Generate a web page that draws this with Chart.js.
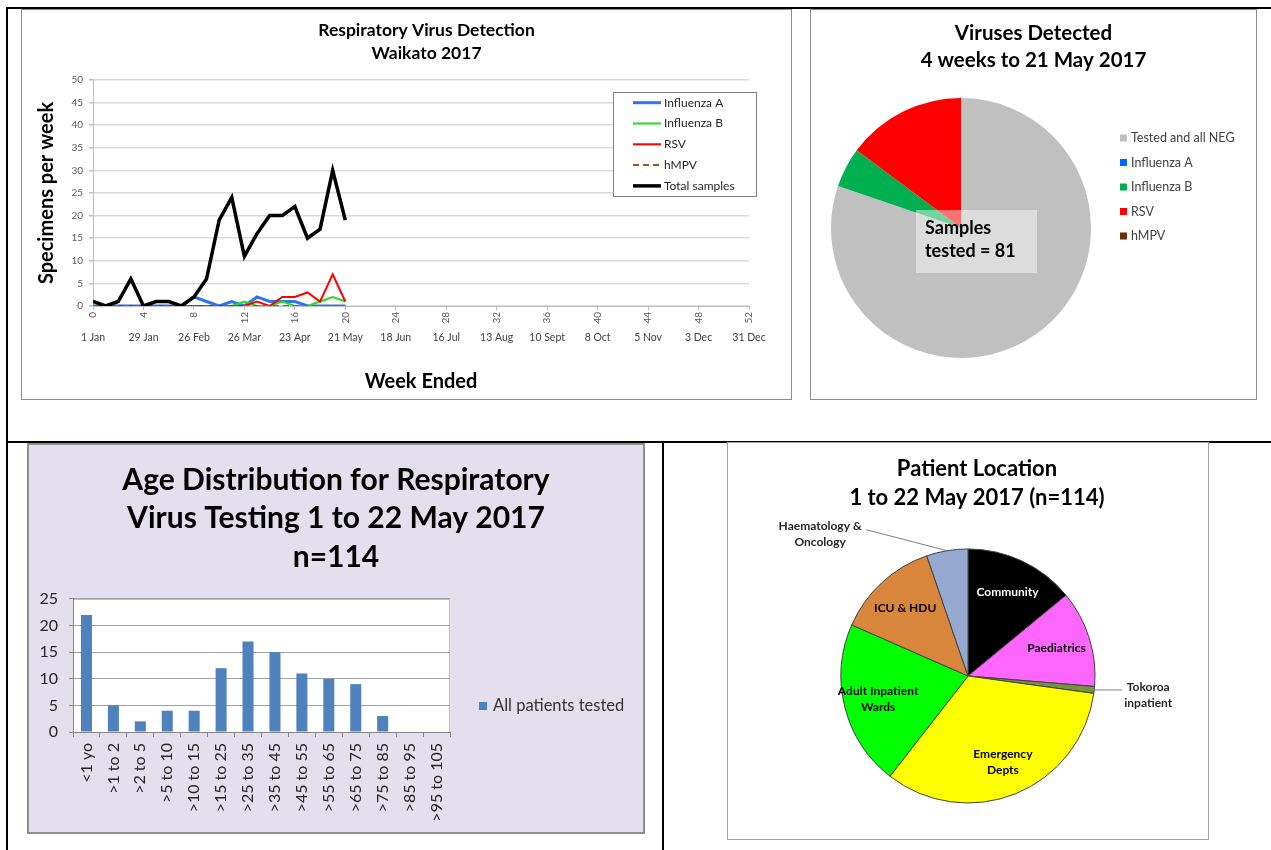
<!DOCTYPE html>
<html>
<head>
<meta charset="utf-8">
<script src="https://cdn.jsdelivr.net/npm/chart.js@4.4.1/dist/chart.umd.min.js"></script>
<style>
  body { margin: 0; background: #fff; width: 1271px; height: 850px; position: relative; overflow: hidden; }
  .rule { position: absolute; background: #000; }
  .panel { position: absolute; box-sizing: border-box; }
  .panel canvas { position: absolute; left: 0; top: 0; }
</style>
</head>
<body>
<div class="rule" style="left:6px;top:7px;width:1265px;height:2px"></div>
<div class="rule" style="left:6px;top:7px;width:2px;height:843px"></div>
<div class="rule" style="left:6px;top:441px;width:1265px;height:2px"></div>
<div class="rule" style="left:662px;top:441px;width:2px;height:409px"></div>

<div class="panel" style="left:21px;top:9px;width:771px;height:391px;border:1px solid #8c8c8c">
  <canvas id="trend" width="769" height="389"></canvas>
</div>
<div class="panel" style="left:810px;top:9px;width:447px;height:391px;border:1px solid #8c8c8c">
  <canvas id="viruses" width="445" height="389"></canvas>
</div>
<div class="panel" style="left:27px;top:443px;width:618px;height:391px;border:2px solid #8f8f8f;background:#e4dfec">
  <canvas id="ages" width="614" height="387"></canvas>
</div>
<div class="panel" style="left:727px;top:442px;width:482px;height:398px;border:1px solid #a0a0a0">
  <canvas id="location" width="480" height="396"></canvas>
</div>

<script>
// weekly counts, Waikato 2017 (weeks 0-20)
const weekNumbers = [0, 1, 2, 3, 4, 5, 6, 7, 8, 9, 10, 11, 12, 13, 14, 15, 16, 17, 18, 19, 20];
const influenzaA = [0, 0, 0, 0, 0, 0, 0, 0, 2, 1, 0, 1, 0, 2, 1, 1, 1, 0, 0, 0, 0];
const influenzaB = [0, 0, 0, 0, 0, 0, 0, 0, 0, 0, 0, 0, 1, 0, 0, 1, 0, 0, 1, 2, 1];
const rsvCases = [0, 0, 0, 0, 0, 0, 0, 0, 0, 0, 0, 0, 0, 1, 0, 2, 2, 3, 1, 7, 1];
const hmpvCases = [0, 0, 0, 0, 0, 0, 0, 0, 0, 0, 0, 0, 0, 0, 0, 0, 0, 0, 0, 0, 0];
const totalSamples = [1, 0, 1, 6, 0, 1, 1, 0, 2, 6, 19, 24, 11, 16, 20, 20, 22, 15, 17, 30, 19];
const weekEndedLabels = ['1 Jan', '29 Jan', '26 Feb', '26 Mar', '23 Apr', '21 May', '18 Jun',
  '16 Jul', '13 Aug', '10 Sept', '8 Oct', '5 Nov', '3 Dec', '31 Dec'];

// viruses detected, 4 weeks to 21 May
const virusLabels = ['Tested and all NEG', 'Influenza A', 'Influenza B', 'RSV', 'hMPV'];
const virusCounts = [65, 0, 4, 12, 0];
const virusColours = ['#c0c0c0', '#0066ff', '#00b050', '#ff0000', '#663300'];

// age distribution
const ageGroups = ['<1 yo', '>1 to 2', '>2 to 5', '>5 to 10', '>10 to 15', '>15 to 25', '>25 to 35',
  '>35 to 45', '>45 to 55', '>55 to 65', '>65 to 75', '>75 to 85', '>85 to 95', '>95 to 105'];
const ageCounts = [22, 5, 2, 4, 4, 12, 17, 15, 11, 10, 9, 3, 0, 0];

// patient location
const locationLabels = ['Community', 'Paediatrics', 'Tokoroa inpatient', 'Emergency Depts',
  'Adult Inpatient Wards', 'ICU & HDU', 'Haematology & Oncology'];
const locationCounts = [16, 14, 1, 38, 24, 15, 6];
const locationColours = ['#000000', '#ff66ff', '#77933c', '#ffff00', '#00ff00', '#d9863d', '#95a9d1'];

const FONT = 'Lato, "Liberation Sans", sans-serif';
Chart.defaults.font.family = FONT;
Chart.defaults.color = '#404040';
Chart.defaults.plugins.legend.display = false;
Chart.defaults.plugins.tooltip.enabled = false;

// reserves a strip on the right of the plot, optionally with a square-marker key
const sideBox = {
  id: 'sideBox',
  start(chart) {
    const box = {
      position: 'right', weight: 0, fullSize: false, options: {},
      left: 0, top: 0, right: 0, bottom: 0, width: 0, height: 0,
      isHorizontal() { return false; },
      update(maxWidth, maxHeight) {
        this.width = chart.options.plugins.sideBox.width || 0;
        this.height = maxHeight;
      },
      draw() {}
    };
    chart.$sideBox = box;
    Chart.layouts.addBox(chart, box);
  },
  afterDraw(chart, args, o) {
    if (!o.items) return;
    const box = chart.$sideBox, ctx = chart.ctx;
    const ds = chart.data.datasets;
    const entries = o.items === 'labels'
      ? chart.data.labels.map((t, i) => ({ text: t, colour: ds[0].backgroundColor[i] }))
      : ds.map(d => ({ text: d.label, colour: d.backgroundColor }));
    ctx.save();
    ctx.font = o.fontSize + 'px ' + FONT;
    ctx.textBaseline = 'middle';
    entries.forEach((e, i) => {
      const y = o.top + i * o.gap;
      ctx.fillStyle = e.colour;
      ctx.fillRect(box.left + o.dx, y - o.size / 2, o.size, o.size);
      ctx.fillStyle = o.color;
      ctx.fillText(e.text, box.left + o.textDx, y);
    });
    ctx.restore();
  }
};

// framed line key inside the plot area
const lineKey = {
  id: 'lineKey',
  afterDraw(chart, args, o) {
    const { ctx, chartArea: a } = chart;
    const x = a.right + o.right - o.width, y = a.top + o.top;
    ctx.save();
    ctx.fillStyle = '#fff';
    ctx.fillRect(x, y, o.width, o.height);
    ctx.strokeStyle = '#808080';
    ctx.lineWidth = 1;
    ctx.strokeRect(x + 0.5, y + 0.5, o.width, o.height);
    ctx.font = '12px ' + FONT;
    ctx.textBaseline = 'middle';
    chart.data.datasets.forEach((d, i) => {
      const ly = y + o.first + i * o.gap;
      ctx.strokeStyle = d.borderColor;
      ctx.lineWidth = d.borderWidth;
      ctx.setLineDash(d.borderDash || []);
      ctx.beginPath();
      ctx.moveTo(x + o.lineX, ly);
      ctx.lineTo(x + o.lineX + o.lineLen, ly);
      ctx.stroke();
      ctx.setLineDash([]);
      ctx.fillStyle = '#262626';
      ctx.fillText(d.label, x + o.textX, ly);
    });
    ctx.restore();
  }
};

// white plot area with a light frame
const plotFill = {
  id: 'plotFill',
  beforeDraw(chart) {
    const { ctx, chartArea: a } = chart;
    ctx.save();
    ctx.fillStyle = '#fff';
    ctx.fillRect(a.left, a.top, a.width, a.height);
    ctx.strokeStyle = '#bfbfbf';
    ctx.lineWidth = 1;
    ctx.strokeRect(a.left + 0.5, a.top + 0.5, a.width - 1, a.height);
    ctx.restore();
  }
};

// translucent "Samples tested" note over the pie centre
const sampleNote = {
  id: 'sampleNote',
  afterDatasetsDraw(chart) {
    const arc = chart.getDatasetMeta(0).data[0];
    const total = chart.data.datasets[0].data.reduce((s, v) => s + v, 0);
    const ctx = chart.ctx;
    ctx.save();
    ctx.fillStyle = 'rgba(255,255,255,0.45)';
    ctx.fillRect(arc.x - 45, arc.y - 18, 121, 63);
    ctx.fillStyle = '#000';
    ctx.font = 'bold 18px ' + FONT;
    ctx.textBaseline = 'middle';
    ctx.fillText('Samples', arc.x - 36, arc.y);
    ctx.fillText('tested = ' + total, arc.x - 36, arc.y + 23);
    ctx.restore();
  }
};

// slice names, inside or with a leader line
const sliceText = {
  id: 'sliceText',
  afterDatasetsDraw(chart, args, o) {
    const ctx = chart.ctx;
    ctx.save();
    ctx.font = 'bold 12px ' + FONT;
    ctx.textAlign = 'center';
    ctx.textBaseline = 'middle';
    chart.getDatasetMeta(0).data.forEach((arc, i) => {
      const mid = (arc.startAngle + arc.endAngle) / 2;
      const lines = o.lines[i];
      const out = o.outside[i];
      ctx.fillStyle = o.colours[i];
      if (out) {
        const ex = arc.x + Math.cos(mid) * arc.outerRadius;
        const ey = arc.y + Math.sin(mid) * arc.outerRadius;
        ctx.strokeStyle = '#808080';
        ctx.lineWidth = 1;
        ctx.beginPath();
        ctx.moveTo(ex, ey);
        ctx.lineTo(ex + out.dx, ey + out.dy);
        ctx.stroke();
        lines.forEach((t, k) => ctx.fillText(t, ex + out.tx, ey + out.ty + k * 16));
      } else {
        const r = arc.outerRadius * o.radius;
        const x = arc.x + Math.cos(mid) * r, y = arc.y + Math.sin(mid) * r;
        lines.forEach((t, k) => ctx.fillText(t, x, y + (k - (lines.length - 1) / 2) * 16));
      }
    });
    ctx.restore();
  }
};

function series(label, values, colour, width, dash, order) {
  return {
    label: label,
    data: weekNumbers.map((w, i) => ({ x: w, y: values[i] })),
    borderColor: colour,
    backgroundColor: colour,
    borderWidth: width,
    borderDash: dash,
    order: order,
    pointRadius: 0,
    tension: 0,
    fill: false
  };
}

new Chart(document.getElementById('trend'), {
  type: 'line',
  data: {
    datasets: [
      series('Influenza A', influenzaA, '#2f75f0', 3, [], 4),
      series('Influenza B', influenzaB, '#22dd22', 2, [], 3),
      series('RSV', rsvCases, '#ff0000', 2, [], 2),
      series('hMPV', hmpvCases, '#a0561e', 2, [6, 4], 1),
      series('Total samples', totalSamples, '#000000', 3.5, [], 0)
    ]
  },
  options: {
    responsive: false, devicePixelRatio: 1, animation: false,
    layout: { padding: { left: 40, right: 0, top: 0, bottom: 0 } },
    plugins: {
      title: {
        display: true, text: ['Respiratory Virus Detection', 'Waikato 2017'], color: '#000',
        font: { size: 17.5, weight: 'bold', lineHeight: 1.314 }, padding: { top: 8.5, bottom: 15.5 }
      },
      sideBox: { width: 42 },
      lineKey: { right: 7, top: 12, width: 143, height: 104, first: 10.7, gap: 20.8, lineX: 20, lineLen: 28, textX: 51 }
    },
    scales: {
      x: {
        type: 'linear', min: 0, max: 52, weight: 0,
        ticks: { stepSize: 4, autoSkip: false, minRotation: 90, maxRotation: 90, font: { size: 10 }, color: '#595959', padding: 2 },
        grid: { drawOnChartArea: false, tickLength: 4, color: '#bfbfbf' },
        border: { color: '#bfbfbf' },
        afterFit(s) { s.height = 22; }
      },
      xDate: {
        type: 'linear', position: 'bottom', min: 0, max: 52, weight: 1,
        ticks: {
          stepSize: 4, autoSkip: false, minRotation: 0, maxRotation: 0, font: { size: 10.5 }, color: '#404040', padding: 3,
          callback: (v) => weekEndedLabels[v / 4]
        },
        grid: { display: false, drawTicks: false },
        border: { display: false },
        title: { display: true, text: 'Week Ended', color: '#000', font: { size: 20, weight: 'bold' }, padding: { top: 0, bottom: 5 } },
        afterFit(s) { s.height = 71; }
      },
      y: {
        min: 0, max: 50,
        ticks: { stepSize: 5, font: { size: 10 }, color: '#595959', padding: 6 },
        grid: { color: '#d9d9d9', lineWidth: 1.5, tickLength: 4, tickColor: '#bfbfbf' },
        border: { color: '#bfbfbf' },
        title: { display: true, text: 'Specimens per week', color: '#000', font: { size: 20, weight: 'bold' }, padding: { top: -27, bottom: 0 } },
        afterFit(s) { s.width = 31; }
      }
    }
  },
  plugins: [sideBox, lineKey]
});

new Chart(document.getElementById('viruses'), {
  type: 'pie',
  data: {
    labels: virusLabels,
    datasets: [{ data: virusCounts, backgroundColor: virusColours, borderWidth: 0, hoverOffset: 0 }]
  },
  options: {
    responsive: false, devicePixelRatio: 1, animation: false,
    layout: { padding: { left: 0, right: 0, top: 0, bottom: 41 } },
    plugins: {
      title: {
        display: true, text: ['Viruses Detected', '4 weeks to 21 May 2017'], color: '#000',
        font: { size: 20.5, weight: 'bold', lineHeight: 1.317 }, padding: { top: 9.5, bottom: 24.5 }
      },
      sideBox: { width: 145, items: 'labels', dx: 9, textDx: 20, top: 128, gap: 24.5, size: 7, fontSize: 12.5, color: '#404040' }
    }
  },
  plugins: [sideBox, sampleNote]
});

new Chart(document.getElementById('ages'), {
  type: 'bar',
  data: {
    labels: ageGroups,
    datasets: [{ label: 'All patients tested', data: ageCounts, backgroundColor: '#4f81bd', barPercentage: 0.41, categoryPercentage: 1 }]
  },
  options: {
    responsive: false, devicePixelRatio: 1, animation: false,
    layout: { padding: 0 },
    plugins: {
      title: {
        display: true, text: ['Age Distribution for Respiratory', 'Virus Testing 1 to 22 May 2017', 'n=114'], color: '#000',
        font: { size: 30, weight: 'bold', lineHeight: 1.283 }, padding: { top: 15.75, bottom: 22.75 }
      },
      sideBox: { width: 193, items: 'datasets', dx: 29, textDx: 43, top: 261, gap: 0, size: 8, fontSize: 16.5, color: '#333' }
    },
    scales: {
      x: {
        ticks: { minRotation: 90, maxRotation: 90, autoSkip: false, font: { size: 16 }, color: '#262626', padding: 6 },
        grid: { drawOnChartArea: false, tickLength: 5, color: '#868686' },
        border: { color: '#868686' },
        afterFit(s) { s.height = 100; }
      },
      y: {
        min: 0, max: 25,
        ticks: { stepSize: 5, font: { size: 16 }, color: '#262626', padding: 11 },
        grid: { color: '#a0a0a0', tickLength: 4, tickColor: '#868686' },
        border: { color: '#868686' },
        afterFit(s) { s.width = 44; }
      }
    }
  },
  plugins: [sideBox, plotFill]
});

new Chart(document.getElementById('location'), {
  type: 'pie',
  data: {
    labels: locationLabels,
    datasets: [{ data: locationCounts, backgroundColor: locationColours, borderColor: '#404040', borderWidth: 1, hoverOffset: 0 }]
  },
  options: {
    responsive: false, devicePixelRatio: 1, animation: false,
    layout: { padding: { left: 18, right: 0, top: 0, bottom: 35.5 } },
    plugins: {
      title: {
        display: true, text: ['Patient Location', '1 to 22 May 2017 (n=114)'], color: '#000',
        font: { size: 22, weight: 'bold', lineHeight: 1.29 }, padding: { top: 12.1, bottom: 36.6 }
      },
      sideBox: { width: 18 },
      sliceText: {
        radius: 0.73,
        lines: [['Community'], ['Paediatrics'], ['Tokoroa', 'inpatient'], ['Emergency', 'Depts'],
          ['Adult Inpatient', 'Wards'], ['ICU & HDU'], ['Haematology &', 'Oncology']],
        colours: ['#fff', '#000', '#262626', '#000', '#000', '#000', '#262626'],
        outside: [null, null, { dx: 28, dy: 0, tx: 54, ty: -3 }, null, null, null, { dx: -81, dy: -21, tx: -127, ty: -25 }]
      }
    }
  },
  plugins: [sideBox, sliceText]
});
</script>
</body>
</html>
